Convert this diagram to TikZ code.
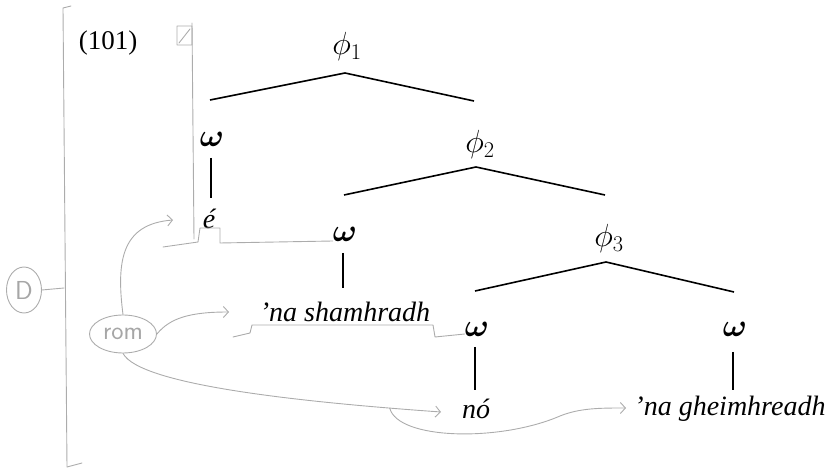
\documentclass[tikz,border=0pt]{standalone}
\usepackage{fix-cm}
\usepackage{bm}
\usepackage{fontspec}
\setmainfont{Liberation Serif}
\usetikzlibrary{arrows.meta,positioning,shapes.geometric}

\begin{document}
\begin{tikzpicture}[
  x=1pt, y=-1pt,
  font=\fontsize{27}{32}\selectfont,
  cat/.style={inner sep=0pt, font=\fontsize{32}{36}\selectfont},
  word/.style={inner sep=0pt, font=\fontsize{28}{32}\selectfont\itshape},
  branch/.style={line width=1.6pt},
  stem/.style={line width=2.6pt},
  hand/.style={draw=gray!65, line width=0.9pt, line cap=round, line join=round},
  harr/.style={hand, -{Straight Barb[length=5pt,width=11pt]}},
  hnote/.style={hand, ellipse, inner sep=0pt, text=gray!70, font=\fontsize{26}{28}\selectfont\sffamily}
]
\useasboundingbox (0,0) rectangle (833,470);
% printed tree
\node (ex) at (108,43) {(101)};
\node[cat] (p1) at (347,47) {$\phi_1$};
\node[cat] (p2) at (480,145) {$\phi_2$};
\node[cat] (p3) at (609,239) {$\phi_3$};
\node[cat] (w1) at (212,139) {$\bm{\omega}$};
\node[cat] (w2) at (345,234) {$\bm{\omega}$};
\node[cat] (w3) at (477,329) {$\bm{\omega}$};
\node[cat] (w4) at (735,329) {$\bm{\omega}$};
\node[word] (e) at (209,219) {é};
\node[word] (sh) at (345,312) {’na shamhradh};
\node[word] (no) at (476,409) {nó};
\node[word] (gh) at (730,409) {’na gheimhreadh};
\coordinate (p1a) at (345,73);
\coordinate (p2a) at (476,167);
\coordinate (p3a) at (606,262);
\draw[branch] (210,100) -- (p1a) -- (474,101);
\draw[branch] (344,195) -- (p2a) -- (605,195);
\draw[branch] (475,291) -- (p3a) -- (734,292);
\draw[stem] (w1.center) ++(-1,19) -- ++(0,40);
\draw[stem] (w2.center) ++(-2,19) -- ++(0,35);
\draw[stem] (w3.center) ++(-2,18) -- ++(0,43);
\draw[stem] (w4.center) ++(-2,23) -- ++(0,38);
% hand notes
\node[hnote, minimum width=35pt, minimum height=46pt] (d) at (24,290) {D};
\node[hnote, minimum width=67pt, minimum height=38pt] (rom) at (123,334) {rom};
\coordinate (brt) at (63,8);
\coordinate (brb) at (67,467);
\draw[hand] (71,6) -- (brt) -- (brb) -- (82,463);
\draw[hand] (d.east) -- (64,288);
\draw[hand] (192,23) -- (194,239);
\draw[hand] (177,26) rectangle (192,45) (179,43) -- (190,29);
\draw[hand] (163,247) -- (198,242) -- (200,228) -- (220,228) -- (220,243) -- ([yshift=-7pt]w2.west);
\draw[hand] (233,337) -- (250,333) -- (252,325) -- (433,325) -- (435,337) -- ([yshift=-5pt]w3.west);
\draw[harr] (rom.north) .. controls (116,260) and (122,224) .. (173,220);
\draw[harr] (rom.east) .. controls (170,318) and (190,312) .. (229,312);
\draw[harr] (rom.south) .. controls (140,385) and (300,402) .. coordinate[pos=0.88] (fork) (441,412);
\draw[harr] (fork) .. controls (398,440) and (500,442) .. (560,416) .. controls (580,408) and (600,408) .. (626,408);
\end{tikzpicture}
\end{document}
